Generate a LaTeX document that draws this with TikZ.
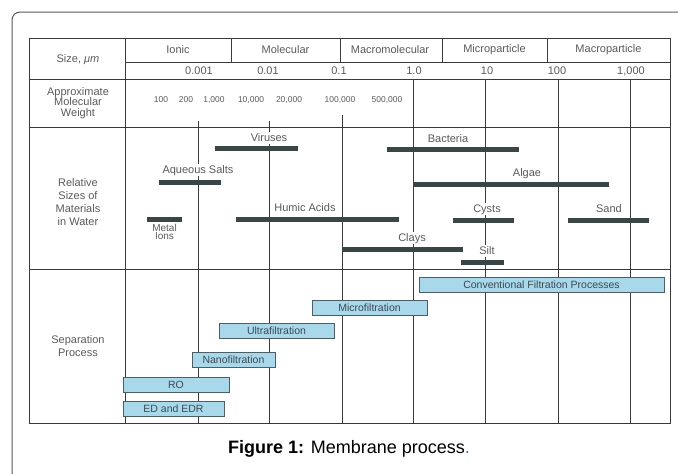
\documentclass[tikz,border=0pt]{standalone}
\usepackage{fontspec}
\setmainfont{Liberation Sans}
\usepackage{xcolor}
\usetikzlibrary{positioning}

\definecolor{gridline}{HTML}{3A3A3A}
\definecolor{greytext}{HTML}{5A5A5A}
\definecolor{barfill}{HTML}{3A4645}
\definecolor{boxfill}{HTML}{A9D8EA}
\definecolor{boxline}{HTML}{4E5E66}
\definecolor{boxtext}{HTML}{3A4A52}
\definecolor{captionblue}{HTML}{2A7AC0}

\begin{document}
\begin{tikzpicture}[x=1pt, y=-1pt, node distance=1pt,
    grid/.style = {draw=gridline, line width=1pt},
    head/.style = {text=greytext, font=\fontsize{11}{12}\selectfont, inner sep=0pt},
    side/.style = {text=greytext, font=\fontsize{11}{13}\selectfont, align=center, inner sep=0pt},
    mw/.style = {text=greytext, font=\fontsize{8.5}{10}\selectfont, inner sep=0pt},
    lbl/.style = {text=greytext, font=\fontsize{11}{12}\selectfont, fill=white, inner sep=1pt, text height=8pt, text depth=2pt},
    bar/.style = {fill=barfill, minimum height=5pt, inner sep=0pt},
    proc/.style = {draw=boxline, fill=boxfill, line width=0.8pt, text=boxtext, font=\fontsize{10.5}{12}\selectfont, minimum height=15pt, inner sep=0pt}]

    \useasboundingbox (0,0) rectangle (678,474);

    % outer frame
    \draw[gray!70!black, line width=1pt, rounded corners=8pt] (12,500) -- (12,12) -- (700,12);

    % table
    \draw[grid] (29,38) rectangle (670,423);
    \draw[grid] (125,38) -- (125,423);
    \draw[grid] (125,62) -- (670,62);
    \foreach \y in {79,127,269}
        \draw[grid] (29,\y) -- (670,\y);
    \foreach \x in {231,340,442,547}
        \draw[grid] (\x,38) -- (\x,62);
    \foreach \x/\t in {198/121,269/121,342/115}
        \draw[grid] (\x,\t) -- (\x,423);
    \foreach \x in {413,485,558,630}
        \draw[grid] (\x,79) -- (\x,423);

    % row titles
    \node[side] (size) at (78,60) {Size, \textit{μm}};
    \node[side, font=\fontsize{11}{10.3}\selectfont] (weight) at (78,103) {Approximate\\Molecular\\Weight};
    \node[side] (sizes) at (78,202) {Relative\\Sizes of\\Materials\\in Water};
    \node[side] (sep) at (78,346) {Separation\\Process};

    % size classes
    \node[head] (ionic) at (178,50) {Ionic};
    \node[head] (molecular) at (285.5,50) {Molecular};
    \node[head] (macromol) at (390,50) {Macromolecular};
    \node[head] (micropart) at (494.5,50) {Microparticle};
    \node[head] (macropart) at (608.5,50) {Macroparticle};

    % size scale
    \foreach \x/\v [count=\i] in {199/0.001,268/0.01,339/0.1,414/1.0,487/10,557/100,631/{1,000}}
        \node[head] (s\i) at (\x,71) {\v};

    % molecular weights
    \foreach \x/\v [count=\i] in {161/100,186/200,214/{1,000},251/{10,000},289/{20,000},340/{100,000},387/{500,000}}
        \node[mw] (w\i) at (\x,100) {\v};

    % materials
    \node[bar, minimum width=83pt] (viruses) at (256.5,148) {};
    \node[bar, minimum width=62pt] (salts) at (190,182) {};
    \node[bar, minimum width=35pt] (metal) at (164.5,219) {};
    \node[bar, minimum width=163pt] (humic) at (317.5,219) {};
    \node[bar, minimum width=132pt] (bacteria) at (453,149) {};
    \node[bar, minimum width=196pt] (algae) at (511,184) {};
    \node[bar, minimum width=61pt] (cysts) at (483.5,220) {};
    \node[bar, minimum width=81pt] (sand) at (608.5,220) {};
    \node[bar, minimum width=121pt] (clays) at (402.5,249) {};
    \node[bar, minimum width=43pt] (silt) at (482.5,262) {};

    \node[lbl] (virusesl) at (269,138) {Viruses};
    \node[lbl] (saltsl) at (198,170) {Aqueous Salts};
    \node[side, font=\fontsize{10}{8.5}\selectfont, below=2pt of metal] (metall) {Metal\\Ions};
    \node[lbl] (humicl) at (305,208) {Humic Acids};
    \node[lbl] (bacterial) at (448,139) {Bacteria};
    \node[lbl] (algael) at (527,173) {Algae};
    \node[lbl] (cystsl) at (487,209) {Cysts};
    \node[lbl] (sandl) at (609,209) {Sand};
    \node[lbl] (claysl) at (412,238) {Clays};
    \node[lbl] (siltl) at (487,251) {Silt};

    % separation processes
    \node[proc, minimum width=245pt] (conv) at (541.5,285) {Conventional Filtration Processes};
    \node[proc, minimum width=115pt] (mf) at (369.5,308) {Microfiltration};
    \node[proc, minimum width=115pt] (uf) at (276.5,330.5) {Ultrafiltration};
    \node[proc, minimum width=83pt] (nf) at (233.5,359.5) {Nanofiltration};
    \node[proc, minimum width=106pt] (ro) at (176,384.5) {RO};
    \node[proc, minimum width=101pt] (ed) at (173.5,408.5) {ED and EDR};

    % caption
    \node[font=\fontsize{18}{21}\selectfont, inner sep=0pt] (caption) at (349,449) {\textbf{Figure 1:} Membrane process\textcolor{captionblue}{.}};
\end{tikzpicture}
\end{document}
